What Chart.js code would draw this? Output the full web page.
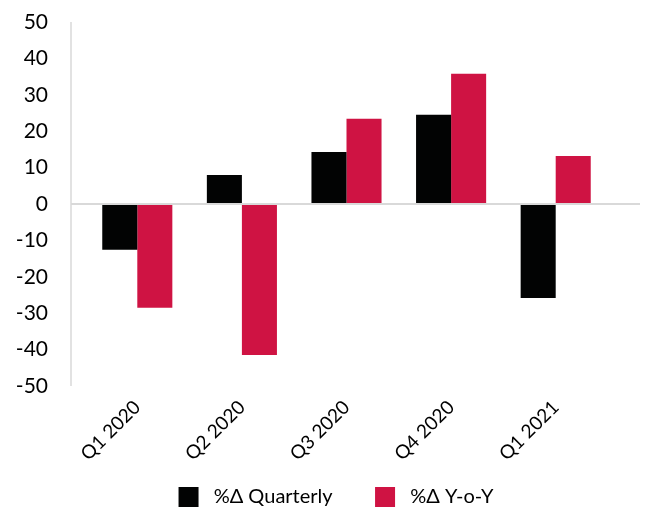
<!DOCTYPE html>
<html>
<head>
<meta charset="utf-8">
<script src="https://cdn.jsdelivr.net/npm/chart.js@4"></script>
<style>
  body { margin: 0; background: #fff; }
</style>
</head>
<body>
<canvas id="changeChart" width="645" height="510"></canvas>
<script>
const quarters = ["Q1 2020", "Q2 2020", "Q3 2020", "Q4 2020", "Q1 2021"];
const quarterlyChange = [-12.6, 8.0, 14.3, 24.5, -25.8];
const yearOnYearChange = [-28.5, -41.5, 23.4, 35.8, 13.2];

const axisColor = "#d9d9d9";

// vertical axis line plus the zero line, both stretched past the bars
const axisLines = {
  id: "axisLines",
  afterDatasetsDraw(chart) {
    const { ctx, chartArea, scales } = chart;
    const x0 = chartArea.left - 14;
    const zeroY = scales.y.getPixelForValue(0);
    ctx.save();
    ctx.strokeStyle = axisColor;
    ctx.lineWidth = 1.5;
    ctx.beginPath();
    ctx.moveTo(x0, scales.y.getPixelForValue(50));
    ctx.lineTo(x0, scales.y.getPixelForValue(-50));
    ctx.stroke();
    ctx.lineWidth = 2;
    ctx.beginPath();
    ctx.moveTo(x0, zeroY);
    ctx.lineTo(chart.width - 5, zeroY);
    ctx.stroke();
    ctx.restore();
  },
};

// centre the legend a little right of the canvas middle
const legendShift = {
  id: "legendShift",
  afterLayout(chart) {
    chart.legend.left += 27;
  },
};

let changeChart;

const addChangeChart = () => {
  let ctx = document.getElementById("changeChart").getContext("2d");

  changeChart = new Chart(ctx, {
    type: "bar",
    data: {
      labels: quarters,
      datasets: [
        {
          label: "%\u0394 Quarterly",
          data: quarterlyChange,
          backgroundColor: "#020303",
          borderWidth: 0,
        },
        {
          label: "%\u0394 Y-o-Y",
          data: yearOnYearChange,
          backgroundColor: "#cf1343",
          borderWidth: 0,
        },
      ],
    },
    options: {
      responsive: false,
      animation: false,
      layout: {
        padding: { top: 22, right: 0, left: 0, bottom: -7 },
      },
      datasets: {
        bar: {
          categoryPercentage: 0.67,
          barPercentage: 1.0,
        },
      },
      scales: {
        x: {
          afterFit(scale) {
            scale.height = 99;
          },
          grid: { display: false },
          border: { display: false },
          ticks: {
            color: "#000",
            font: { family: "Lato", size: 19 },
            minRotation: 45,
            maxRotation: 45,
            padding: 2,
          },
        },
        y: {
          min: -50,
          max: 50,
          afterFit(scale) {
            scale.width = 85;
          },
          // tick marks stay hidden, their length only pushes the labels left
          grid: { display: false, drawTicks: true, tickLength: 33 },
          border: { display: false },
          ticks: {
            stepSize: 10,
            color: "#000",
            padding: 4,
            font: { family: "Lato", size: 21 },
          },
        },
        // empty right-hand axis, only reserves space after the last group
        yRight: {
          position: "right",
          afterFit(scale) {
            scale.width = 37;
          },
          grid: { display: false },
          border: { display: false },
          ticks: { display: false },
        },
      },
      plugins: {
        tooltip: { enabled: false },
        legend: {
          position: "bottom",
          labels: {
            color: "#000",
            boxWidth: 20,
            boxHeight: 20,
            padding: 2,
            font: { family: "Lato", size: 20 },
            generateLabels(chart) {
              const items = Chart.defaults.plugins.legend.labels.generateLabels(chart);
              items.forEach((item, i) => {
                item.text = "\u00a0" + item.text;
                // wider gap after the first entry
                if (i === 0) item.text += "\u00a0".repeat(8);
              });
              return items;
            },
          },
        },
      },
    },
    plugins: [axisLines, legendShift],
  });
};

addChangeChart();
</script>
</body>
</html>
